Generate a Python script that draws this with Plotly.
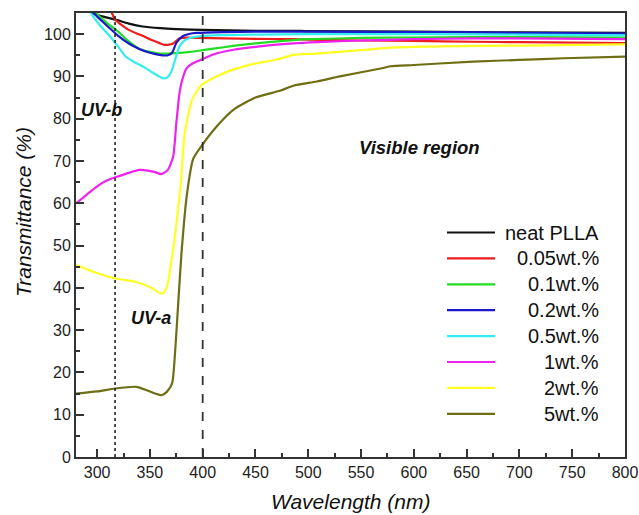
import plotly.graph_objects as go

# ---- data ----
names = ["neat PLLA", "0.05wt.%", "0.1wt.%", "0.2wt.%", "0.5wt.%", "1wt.%", "2wt.%", "5wt.%"]
colors = ["#111111", "#ee1c1c", "#22dd22", "#1a1acc", "#33eeee", "#ee22ee", "#ffff22", "#6e6e14"]

neat_x = [280, 296, 305, 318, 330, 343, 360, 375, 400, 450, 486, 500, 600, 656, 700, 800]
neat_y = [110, 105, 104.2, 103.4, 102.5, 101.8, 101.4, 101.2, 101.0, 100.8, 100.8, 100.7, 100.6, 100.5, 100.4, 100.3]

w005_x = [300, 314, 317, 324, 330, 337, 343, 350, 356, 363, 368, 372, 375, 378, 385, 394, 420, 450, 486, 500, 550, 600, 656, 700, 800]
w005_y = [115, 105, 103.5, 102.0, 101.0, 100.2, 99.6, 98.8, 98.2, 97.5, 97.5, 97.8, 98.4, 99.0, 99.2, 99.1, 99.0, 98.9, 98.8, 98.7, 98.5, 98.4, 98.2, 98.1, 97.9]

w01_x = [280, 299, 310, 318, 330, 340, 350, 359, 367, 375, 388, 400, 420, 450, 486, 500, 550, 600, 656, 700, 800]
w01_y = [112, 105, 102.5, 101, 98.3, 96.5, 95.8, 95.4, 95.4, 95.5, 95.8, 96.2, 96.9, 97.8, 98.6, 98.8, 99.1, 99.2, 99.3, 99.3, 99.2]

w02_x = [280, 297, 305, 312, 320, 330, 340, 350, 362, 367, 371, 375, 381, 388, 394, 420, 450, 486, 500, 600, 656, 700, 800]
w02_y = [112, 105, 103, 101.4, 99.6, 97.8, 96.5, 95.6, 95.0, 95.0, 95.6, 97.9, 99.5, 100.1, 100.3, 100.5, 100.6, 100.6, 100.6, 100.5, 100.4, 100.3, 100.1]

w05_x = [280, 294, 303, 312, 320, 327, 335, 343, 352, 362, 366, 370, 373, 378, 383, 388, 400, 450, 500, 600, 700, 800]
w05_y = [112, 105, 102, 99.5, 97, 94.7, 93.4, 92.4, 91.0, 89.6, 89.7, 91.0, 93.2, 97.1, 98.5, 99.1, 99.6, 99.9, 100.0, 100.0, 99.9, 99.7]

w1_x = [280, 290, 300, 310, 318, 330, 340, 353, 361, 367, 372, 375, 378, 381, 385, 390, 398, 410, 429, 450, 486, 508, 550, 600, 656, 700, 800]
w1_y = [60, 62, 64, 65.5, 66.2, 67.2, 67.9, 67.5, 66.9, 67.9, 71.0, 78.9, 86.0, 89.5, 92.0, 93.0, 93.9, 95.2, 96.3, 97.0, 97.8, 98.1, 98.5, 98.8, 99.0, 99.0, 98.8]

w2_x = [280, 300, 317, 337, 350, 360, 363, 367, 370, 372, 375, 379, 383, 390, 399, 413, 429, 445, 470, 486, 508, 550, 578, 625, 700, 800]
w2_y = [45.4, 43.5, 42.2, 41.4, 40.2, 38.7, 38.8, 41.1, 45.8, 49, 55, 64, 76.6, 84.5, 88.0, 90.0, 91.6, 92.8, 94.0, 95.1, 95.4, 96.2, 96.8, 97.1, 97.3, 97.6]

w5_x = [280, 300, 317, 337, 347, 355, 361, 366, 371, 374, 377, 380, 385, 391, 399, 413, 429, 450, 473, 486, 508, 530, 571, 578, 600, 656, 700, 742, 800]
w5_y = [15.0, 15.5, 16.2, 16.6, 15.8, 15.0, 14.6, 15.4, 17.4, 25.3, 37.1, 48.5, 62, 70.5, 73.6, 78.1, 82.1, 85.0, 86.6, 87.8, 88.8, 90.0, 92.0, 92.4, 92.7, 93.5, 93.9, 94.3, 94.7]

series_x = [neat_x, w005_x, w01_x, w02_x, w05_x, w1_x, w2_x, w5_x]
series_y = [neat_y, w005_y, w01_y, w02_y, w05_y, w1_y, w2_y, w5_y]

x_ticks = [300, 350, 400, 450, 500, 550, 600, 650, 700, 750, 800]
y_ticks = [0, 10, 20, 30, 40, 50, 60, 70, 80, 90, 100]
uvb_edge = 317
uva_edge = 400

FONT = "Liberation Sans, Arial, sans-serif"

fig = go.Figure()
for i in range(len(names)):
    fig.add_trace(go.Scatter(x=series_x[i], y=series_y[i], mode="lines", name=names[i],
                             line=dict(color=colors[i], width=2.2, shape="spline", smoothing=0.6),
                             showlegend=False, hoverinfo="skip"))

# region boundaries
fig.add_shape(type="line", xref="x", yref="paper", x0=uvb_edge, x1=uvb_edge, y0=0, y1=1,
              line=dict(color="#222", width=1.6, dash="dot"))
fig.add_shape(type="line", xref="x", yref="paper", x0=uva_edge, x1=uva_edge, y0=0, y1=1,
              line=dict(color="#333", width=1.8, dash="dash"))

W, H = 639, 515
plot_l, plot_r, plot_t, plot_b = 76, 625, 13, 457   # frame in pixels
pw, ph = plot_r - plot_l, plot_b - plot_t
def px2x(px):
    return (px - plot_l) / pw
def py2y(py):
    return (plot_b - py) / ph

# custom legend (lines + right-aligned labels)
leg_top = 232.5
leg_step = 25.9
for i, nm in enumerate(names):
    py = leg_top + i * leg_step
    fig.add_shape(type="line", xref="paper", yref="paper", x0=px2x(447), x1=px2x(495),
                  y0=py2y(py), y1=py2y(py), line=dict(color=colors[i], width=2.2))
    fig.add_annotation(x=px2x(601), y=py2y(py), xref="paper", yref="paper", text=nm,
                       showarrow=False, xanchor="right", yanchor="middle",
                       font=dict(family=FONT, size=20, color="#111"))

# region labels
fig.add_annotation(x=px2x(79), y=py2y(110), xref="paper", yref="paper", text="<b><i>UV-b</i></b>",
                   showarrow=False, xanchor="left", yanchor="middle",
                   font=dict(family=FONT, size=18, color="#111"))
fig.add_annotation(x=px2x(129), y=py2y(318), xref="paper", yref="paper", text="<b><i>UV-a</i></b>",
                   showarrow=False, xanchor="left", yanchor="middle",
                   font=dict(family=FONT, size=18, color="#111"))
fig.add_annotation(x=px2x(419), y=py2y(147), xref="paper", yref="paper", text="<b><i>Visible region</i></b>",
                   showarrow=False, xanchor="center", yanchor="middle",
                   font=dict(family=FONT, size=18.5, color="#111"))

# axis titles
fig.add_annotation(x=px2x(351), y=py2y(501), xref="paper", yref="paper", text="<i>Wavelength (nm)</i>",
                   showarrow=False, xanchor="center", yanchor="middle",
                   font=dict(family=FONT, size=21, color="#111"))
fig.add_annotation(x=px2x(23), y=py2y(212), xref="paper", yref="paper", text="<i>Transmittance (%)</i>",
                   showarrow=False, xanchor="center", yanchor="middle", textangle=-90,
                   font=dict(family=FONT, size=21, color="#111"))

axis_common = dict(showline=True, mirror=True, linewidth=2, linecolor="#333",
                   ticks="inside", ticklen=8, tickwidth=2, tickcolor="#333",
                   showgrid=False, zeroline=False, automargin=False,
                   tickfont=dict(family=FONT, size=16, color="#222"))

fig.update_xaxes(range=[280, 800], tickvals=x_ticks,
                 minor=dict(ticks="inside", ticklen=4, tickwidth=1.5, tickcolor="#333", dtick=25, tick0=275),
                 **axis_common)
fig.update_yaxes(range=[0, 105], tickvals=y_ticks,
                 minor=dict(ticks="inside", ticklen=4, tickwidth=1.5, tickcolor="#333", dtick=5, tick0=0),
                 **axis_common)

fig.update_layout(width=W, height=H, paper_bgcolor="white", plot_bgcolor="white",
                  margin=dict(l=plot_l, r=W - plot_r, t=plot_t, b=H - plot_b),
                  showlegend=False)

fig.write_html("out.html", config={"displayModeBar": False},
               post_script="document.body.style.margin='0';document.body.style.overflow='hidden';")
